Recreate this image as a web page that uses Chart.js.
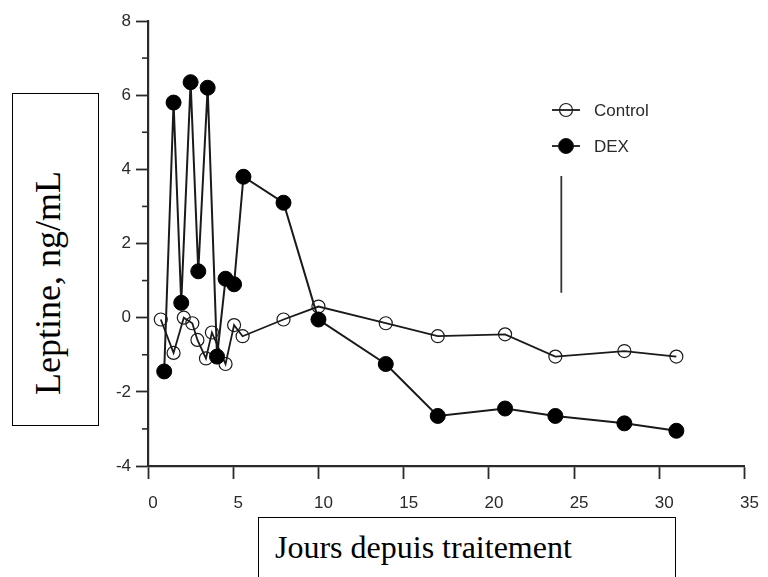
<!DOCTYPE html>
<html>
<head>
<meta charset="utf-8">
<script src="https://cdn.jsdelivr.net/npm/chart.js@4/dist/chart.umd.min.js"></script>
<style>
  html, body { margin: 0; padding: 0; background: #fff; }
  #wrap { position: relative; width: 768px; height: 577px; overflow: hidden; }
  #chart { position: absolute; left: 0; top: 0; filter: blur(0.45px); }
  .box {
    position: absolute;
    border: 1.5px solid #000;
    background: #fff;
    font-family: "Liberation Serif", "Times New Roman", serif;
    color: #000;
    box-sizing: border-box;
  }
  #yTitle { left: 12px; top: 93px; width: 87px; height: 333px; font-size: 36px; }
  #yTitle span {
    position: absolute; left: 41%; top: 57%;
    transform: translate(-50%, -50%) rotate(-90deg);
    white-space: nowrap;
  }
  #xTitle { left: 258px; top: 517px; width: 418px; height: 80px; font-size: 32px; }
  #xTitle span { position: absolute; left: 16px; top: 11px; white-space: nowrap; }
</style>
</head>
<body>
<div id="wrap">
  <canvas id="chart" width="768" height="577"></canvas>
  <div class="box" id="yTitle"><span>Leptine, ng/mL</span></div>
  <div class="box" id="xTitle"><span>Jours depuis traitement</span></div>
</div>
<script>
// leptin change (ng/mL) by day
let ctrlDays = [0.75, 1.5, 2.1, 2.6, 2.9, 3.4, 3.75, 4.55, 5.05, 5.55, 7.95, 10, 13.95, 17, 20.95, 23.9, 27.95, 31];
let ctrlLeptin = [-0.05, -0.95, 0.0, -0.15, -0.6, -1.1, -0.4, -1.25, -0.2, -0.5, -0.05, 0.3, -0.15, -0.5, -0.45, -1.05, -0.9, -1.05];

let dexDays = [0.95, 1.5, 1.95, 2.5, 2.95, 3.5, 4.05, 4.55, 5.05, 5.6, 7.95, 10, 13.95, 17, 20.95, 23.9, 27.95, 31];
let dexLeptin = [-1.45, 5.8, 0.4, 6.35, 1.25, 6.2, -1.05, 1.05, 0.9, 3.8, 3.1, -0.05, -1.25, -2.65, -2.45, -2.65, -2.85, -3.05];

// the lone vertical bar drawn inside the plot
let barDays = [24.25, 24.25];
let barLevels = [0.67, 3.82];

let xTickValues = [0, 5, 10, 15, 20, 25, 30, 35];
let yTickValues = [-4, -3, -2, -1, 0, 1, 2, 3, 4, 5, 6, 7, 8];
let yLabelled = [-4, -2, 0, 2, 4, 6, 8];

let legendNames = ["Control", "DEX"];

let ink = "#1a1a1a";
let axisInk = "#2a2a2a";
let tickFont = { family: "'Liberation Sans', Arial, sans-serif", size: 17 };

function toPoints(xs, ys) {
  return xs.map((x, i) => ({ x: x, y: ys[i] }));
}

// short minor ticks on the y axis plus the little legend in the corner
let extrasPlugin = {
  id: "extras",
  afterDraw(chart) {
    let ctx = chart.ctx;
    let yScale = chart.scales.y;
    let left = chart.chartArea.left;
    ctx.save();
    ctx.strokeStyle = axisInk;
    ctx.lineWidth = 1.6;
    yTickValues.forEach(v => {
      if (yLabelled.includes(v)) return;
      let py = yScale.getPixelForValue(v);
      ctx.beginPath();
      ctx.moveTo(left - 6, py);
      ctx.lineTo(left, py);
      ctx.stroke();
    });

    let lx = 566, ly = [110, 146];
    chart.data.datasets.slice(0, 2).forEach((ds, i) => {
      let y = ly[i];
      ctx.strokeStyle = ink;
      ctx.lineWidth = 1.8;
      ctx.beginPath();
      ctx.moveTo(lx - 14, y);
      ctx.lineTo(lx + 14, y);
      ctx.stroke();
      ctx.beginPath();
      ctx.arc(lx, y, ds.pointRadius, 0, Math.PI * 2);
      if (ds.pointBackgroundColor !== "transparent") {
        ctx.fillStyle = ds.pointBackgroundColor;
        ctx.fill();
      }
      ctx.lineWidth = ds.pointBorderWidth;
      ctx.stroke();
      ctx.fillStyle = axisInk;
      ctx.font = "17px 'Liberation Sans', Arial, sans-serif";
      ctx.textBaseline = "middle";
      ctx.fillText(legendNames[i], lx + 28, y + 1);
    });
    ctx.restore();
  }
};

let chartContext = document.getElementById("chart").getContext("2d");
let chart = new Chart(chartContext, {
  type: "line",
  data: {
    datasets: [{
      label: legendNames[0],
      data: toPoints(ctrlDays, ctrlLeptin),
      borderColor: ink,
      borderWidth: 1.8,
      pointRadius: 6.5,
      pointBorderWidth: 1.2,
      pointBorderColor: ink,
      pointBackgroundColor: "transparent",
      tension: 0,
      order: 2
    }, {
      label: legendNames[1],
      data: toPoints(dexDays, dexLeptin),
      borderColor: ink,
      borderWidth: 2,
      pointRadius: 7.5,
      pointBorderWidth: 1,
      pointBorderColor: "#000",
      pointBackgroundColor: "#000",
      tension: 0,
      order: 1
    }, {
      label: "bar",
      data: toPoints(barDays, barLevels),
      borderColor: "#333",
      borderWidth: 1.8,
      pointRadius: 0,
      order: 3
    }]
  },
  options: {
    responsive: false,
    animation: false,
    layout: { padding: { left: 0, top: 21, right: 21, bottom: 0 } },
    plugins: {
      legend: { display: false },
      tooltip: { enabled: false }
    },
    scales: {
      x: {
        type: "linear",
        min: 0,
        max: 35,
        afterBuildTicks: s => { s.ticks = xTickValues.map(v => ({ value: v })); },
        afterFit: s => { s.height = 111; },
        border: { display: true, color: axisInk, width: 2.2 },
        grid: { drawOnChartArea: false, tickLength: 13, tickColor: axisInk, tickWidth: 1.8 },
        ticks: {
          color: axisInk,
          padding: 14,
          labelOffset: 5,
          maxRotation: 0,
          font: tickFont
        }
      },
      y: {
        type: "linear",
        min: -4,
        max: 8,
        afterBuildTicks: s => { s.ticks = yTickValues.map(v => ({ value: v })); },
        afterFit: s => { s.width = 148; },
        border: { display: true, color: axisInk, width: 2.2 },
        grid: {
          drawOnChartArea: false,
          tickLength: 12,
          tickWidth: 1.8,
          tickColor: c => yLabelled.includes(c.tick.value) ? axisInk : "rgba(0,0,0,0)"
        },
        ticks: {
          color: axisInk,
          padding: 5,
          callback: v => yLabelled.includes(v) ? String(v) : "",
          font: tickFont
        }
      }
    }
  },
  plugins: [extrasPlugin]
});
</script>
</body>
</html>
